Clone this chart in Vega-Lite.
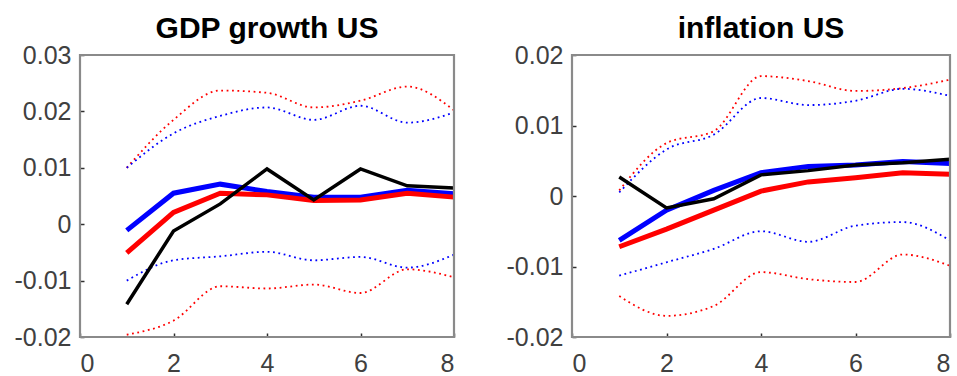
{
  "$schema": "https://vega.github.io/schema/vega-lite/v6.json",
  "padding": {"left": 13, "top": 13, "right": 5, "bottom": 0},
  "background": "white",
  "spacing": 40,
  "datasets": {
    "irf": [
      {"panel":"GDP","step":1,"series":"blue","value":-0.0011},
      {"panel":"GDP","step":2,"series":"blue","value":0.0055},
      {"panel":"GDP","step":3,"series":"blue","value":0.0071},
      {"panel":"GDP","step":4,"series":"blue","value":0.0058},
      {"panel":"GDP","step":5,"series":"blue","value":0.0048},
      {"panel":"GDP","step":6,"series":"blue","value":0.0048},
      {"panel":"GDP","step":7,"series":"blue","value":0.0060},
      {"panel":"GDP","step":8,"series":"blue","value":0.0054},
      {"panel":"GDP","step":1,"series":"red","value":-0.0051},
      {"panel":"GDP","step":2,"series":"red","value":0.0021},
      {"panel":"GDP","step":3,"series":"red","value":0.0055},
      {"panel":"GDP","step":4,"series":"red","value":0.0052},
      {"panel":"GDP","step":5,"series":"red","value":0.0042},
      {"panel":"GDP","step":6,"series":"red","value":0.0043},
      {"panel":"GDP","step":7,"series":"red","value":0.0055},
      {"panel":"GDP","step":8,"series":"red","value":0.0048},
      {"panel":"GDP","step":1,"series":"black","value":-0.0142},
      {"panel":"GDP","step":2,"series":"black","value":-0.0012},
      {"panel":"GDP","step":3,"series":"black","value":0.0036},
      {"panel":"GDP","step":4,"series":"black","value":0.0098},
      {"panel":"GDP","step":5,"series":"black","value":0.0043},
      {"panel":"GDP","step":6,"series":"black","value":0.0098},
      {"panel":"GDP","step":7,"series":"black","value":0.0068},
      {"panel":"GDP","step":8,"series":"black","value":0.0064},
      {"panel":"GDP","step":1,"series":"red_hi","value":0.0100},
      {"panel":"GDP","step":2,"series":"red_hi","value":0.0185},
      {"panel":"GDP","step":3,"series":"red_hi","value":0.0237},
      {"panel":"GDP","step":4,"series":"red_hi","value":0.0233},
      {"panel":"GDP","step":5,"series":"red_hi","value":0.0207},
      {"panel":"GDP","step":6,"series":"red_hi","value":0.0219},
      {"panel":"GDP","step":7,"series":"red_hi","value":0.0244},
      {"panel":"GDP","step":8,"series":"red_hi","value":0.0202},
      {"panel":"GDP","step":1,"series":"blue_hi","value":0.0100},
      {"panel":"GDP","step":2,"series":"blue_hi","value":0.0161},
      {"panel":"GDP","step":3,"series":"blue_hi","value":0.0192},
      {"panel":"GDP","step":4,"series":"blue_hi","value":0.0207},
      {"panel":"GDP","step":5,"series":"blue_hi","value":0.0185},
      {"panel":"GDP","step":6,"series":"blue_hi","value":0.0210},
      {"panel":"GDP","step":7,"series":"blue_hi","value":0.0180},
      {"panel":"GDP","step":8,"series":"blue_hi","value":0.0198},
      {"panel":"GDP","step":1,"series":"blue_lo","value":-0.0100},
      {"panel":"GDP","step":2,"series":"blue_lo","value":-0.0064},
      {"panel":"GDP","step":3,"series":"blue_lo","value":-0.0057},
      {"panel":"GDP","step":4,"series":"blue_lo","value":-0.0049},
      {"panel":"GDP","step":5,"series":"blue_lo","value":-0.0064},
      {"panel":"GDP","step":6,"series":"blue_lo","value":-0.0058},
      {"panel":"GDP","step":7,"series":"blue_lo","value":-0.0077},
      {"panel":"GDP","step":8,"series":"blue_lo","value":-0.0054},
      {"panel":"GDP","step":1,"series":"red_lo","value":-0.0196},
      {"panel":"GDP","step":2,"series":"red_lo","value":-0.0171},
      {"panel":"GDP","step":3,"series":"red_lo","value":-0.0110},
      {"panel":"GDP","step":4,"series":"red_lo","value":-0.0114},
      {"panel":"GDP","step":5,"series":"red_lo","value":-0.0107},
      {"panel":"GDP","step":6,"series":"red_lo","value":-0.0122},
      {"panel":"GDP","step":7,"series":"red_lo","value":-0.0080},
      {"panel":"GDP","step":8,"series":"red_lo","value":-0.0094},
      {"panel":"INF","step":1,"series":"blue","value":-0.0063},
      {"panel":"INF","step":2,"series":"blue","value":-0.0020},
      {"panel":"INF","step":3,"series":"blue","value":0.0008},
      {"panel":"INF","step":4,"series":"blue","value":0.0033},
      {"panel":"INF","step":5,"series":"blue","value":0.0042},
      {"panel":"INF","step":6,"series":"blue","value":0.0044},
      {"panel":"INF","step":7,"series":"blue","value":0.0049},
      {"panel":"INF","step":8,"series":"blue","value":0.0046},
      {"panel":"INF","step":1,"series":"red","value":-0.0072},
      {"panel":"INF","step":2,"series":"red","value":-0.0047},
      {"panel":"INF","step":3,"series":"red","value":-0.0020},
      {"panel":"INF","step":4,"series":"red","value":0.0007},
      {"panel":"INF","step":5,"series":"red","value":0.0020},
      {"panel":"INF","step":6,"series":"red","value":0.0026},
      {"panel":"INF","step":7,"series":"red","value":0.0033},
      {"panel":"INF","step":8,"series":"red","value":0.0031},
      {"panel":"INF","step":1,"series":"black","value":0.0027},
      {"panel":"INF","step":2,"series":"black","value":-0.0017},
      {"panel":"INF","step":3,"series":"black","value":-0.0004},
      {"panel":"INF","step":4,"series":"black","value":0.0030},
      {"panel":"INF","step":5,"series":"black","value":0.0036},
      {"panel":"INF","step":6,"series":"black","value":0.0044},
      {"panel":"INF","step":7,"series":"black","value":0.0047},
      {"panel":"INF","step":8,"series":"black","value":0.0052},
      {"panel":"INF","step":1,"series":"red_hi","value":0.0008},
      {"panel":"INF","step":2,"series":"red_hi","value":0.0075},
      {"panel":"INF","step":3,"series":"red_hi","value":0.0092},
      {"panel":"INF","step":4,"series":"red_hi","value":0.0170},
      {"panel":"INF","step":5,"series":"red_hi","value":0.0163},
      {"panel":"INF","step":6,"series":"red_hi","value":0.0149},
      {"panel":"INF","step":7,"series":"red_hi","value":0.0153},
      {"panel":"INF","step":8,"series":"red_hi","value":0.0165},
      {"panel":"INF","step":1,"series":"blue_hi","value":0.0005},
      {"panel":"INF","step":2,"series":"blue_hi","value":0.0066},
      {"panel":"INF","step":3,"series":"blue_hi","value":0.0087},
      {"panel":"INF","step":4,"series":"blue_hi","value":0.0139},
      {"panel":"INF","step":5,"series":"blue_hi","value":0.0129},
      {"panel":"INF","step":6,"series":"blue_hi","value":0.0135},
      {"panel":"INF","step":7,"series":"blue_hi","value":0.0152},
      {"panel":"INF","step":8,"series":"blue_hi","value":0.0142},
      {"panel":"INF","step":1,"series":"blue_lo","value":-0.0113},
      {"panel":"INF","step":2,"series":"blue_lo","value":-0.0094},
      {"panel":"INF","step":3,"series":"blue_lo","value":-0.0075},
      {"panel":"INF","step":4,"series":"blue_lo","value":-0.0050},
      {"panel":"INF","step":5,"series":"blue_lo","value":-0.0065},
      {"panel":"INF","step":6,"series":"blue_lo","value":-0.0042},
      {"panel":"INF","step":7,"series":"blue_lo","value":-0.0037},
      {"panel":"INF","step":8,"series":"blue_lo","value":-0.0063},
      {"panel":"INF","step":1,"series":"red_lo","value":-0.0142},
      {"panel":"INF","step":2,"series":"red_lo","value":-0.0170},
      {"panel":"INF","step":3,"series":"red_lo","value":-0.0156},
      {"panel":"INF","step":4,"series":"red_lo","value":-0.0108},
      {"panel":"INF","step":5,"series":"red_lo","value":-0.0118},
      {"panel":"INF","step":6,"series":"red_lo","value":-0.0122},
      {"panel":"INF","step":7,"series":"red_lo","value":-0.0083},
      {"panel":"INF","step":8,"series":"red_lo","value":-0.0099}
    ]
  },
  "hconcat": [
    {
      "width": 374,
      "height": 282,
      "title": {"text": "GDP growth US"},
      "data": {"name": "irf"},
      "transform": [{"filter": "datum.panel == 'GDP'"}],
      "encoding": {
        "x": {"field": "step", "type": "quantitative", "scale": {"domain": [0, 8], "nice": false, "zero": false},
              "axis": {"orient": "bottom", "title": null, "values": [0, 2, 4, 6, 8], "labelPadding": 18, "tickSize": -4}},
        "y": {"field": "value", "type": "quantitative", "scale": {"domain": [-0.02, 0.03], "nice": false, "zero": false},
              "axis": {"orient": "left", "title": null, "values": [-0.02, -0.01, 0, 0.01, 0.02, 0.03], "labelExpr": "'' + datum.value", "labelPadding": 13, "tickSize": -4}}
      },
      "layer": [
        {"transform": [{"filter": "indexof(['blue_hi','blue_lo','red_hi','red_lo'], datum.series) >= 0"}],
         "mark": {"type": "line", "strokeWidth": 1.8, "strokeDash": [1.8, 3.6], "interpolate": "monotone"},
         "encoding": {"color": {"field": "series", "type": "nominal", "scale": {"domain": ["blue_hi", "blue_lo", "red_hi", "red_lo"], "range": ["#0000ff", "#0000ff", "#ff0000", "#ff0000"]}, "legend": null}}},
        {"transform": [{"filter": "datum.series == 'blue'"}], "mark": {"type": "line", "color": "#0000ff", "strokeWidth": 5}},
        {"transform": [{"filter": "datum.series == 'red'"}], "mark": {"type": "line", "color": "#ff0000", "strokeWidth": 5}},
        {"transform": [{"filter": "datum.series == 'black'"}], "mark": {"type": "line", "color": "#000000", "strokeWidth": 3.5}},
        {"transform": [{"filter": "datum.series == 'blue' && datum.step == 1"}],
         "mark": {"type": "rect", "fill": null, "fillOpacity": 0, "stroke": "#8a8a8a", "strokeWidth": 2.2},
         "encoding": {"x": {"datum": 0, "type": "quantitative"}, "x2": {"datum": 8}, "y": {"datum": -0.02, "type": "quantitative"}, "y2": {"datum": 0.03}}}
      ]
    },
    {
      "width": 378,
      "height": 282,
      "title": {"text": "inflation US"},
      "data": {"name": "irf"},
      "transform": [{"filter": "datum.panel == 'INF'"}],
      "encoding": {
        "x": {"field": "step", "type": "quantitative", "scale": {"domain": [0, 8], "nice": false, "zero": false},
              "axis": {"orient": "bottom", "title": null, "values": [0, 2, 4, 6, 8], "labelPadding": 18, "tickSize": -4}},
        "y": {"field": "value", "type": "quantitative", "scale": {"domain": [-0.02, 0.02], "nice": false, "zero": false},
              "axis": {"orient": "left", "title": null, "values": [-0.02, -0.01, 0, 0.01, 0.02], "labelExpr": "'' + datum.value", "labelPadding": 13, "tickSize": -4}}
      },
      "layer": [
        {"transform": [{"filter": "indexof(['blue_hi','blue_lo','red_hi','red_lo'], datum.series) >= 0"}],
         "mark": {"type": "line", "strokeWidth": 1.8, "strokeDash": [1.8, 3.6], "interpolate": "monotone"},
         "encoding": {"color": {"field": "series", "type": "nominal", "scale": {"domain": ["blue_hi", "blue_lo", "red_hi", "red_lo"], "range": ["#0000ff", "#0000ff", "#ff0000", "#ff0000"]}, "legend": null}}},
        {"transform": [{"filter": "datum.series == 'blue'"}], "mark": {"type": "line", "color": "#0000ff", "strokeWidth": 5}},
        {"transform": [{"filter": "datum.series == 'red'"}], "mark": {"type": "line", "color": "#ff0000", "strokeWidth": 5}},
        {"transform": [{"filter": "datum.series == 'black'"}], "mark": {"type": "line", "color": "#000000", "strokeWidth": 3.5}},
        {"transform": [{"filter": "datum.series == 'blue' && datum.step == 1"}],
         "mark": {"type": "rect", "fill": null, "fillOpacity": 0, "stroke": "#8a8a8a", "strokeWidth": 2.2},
         "encoding": {"x": {"datum": 0, "type": "quantitative"}, "x2": {"datum": 8}, "y": {"datum": -0.02, "type": "quantitative"}, "y2": {"datum": 0.02}}}
      ]
    }
  ],
  "config": {
    "view": {"stroke": "#888888", "strokeWidth": 2},
    "axis": {"grid": false, "domain": false, "labelFont": "Liberation Sans", "labelFontSize": 25, "labelColor": "#404040", "tickColor": "#303030", "tickWidth": 1.5},
    "title": {"font": "Liberation Sans", "fontSize": 30, "fontWeight": "bold", "color": "#000000", "offset": -1, "anchor": "middle"}
  }
}
